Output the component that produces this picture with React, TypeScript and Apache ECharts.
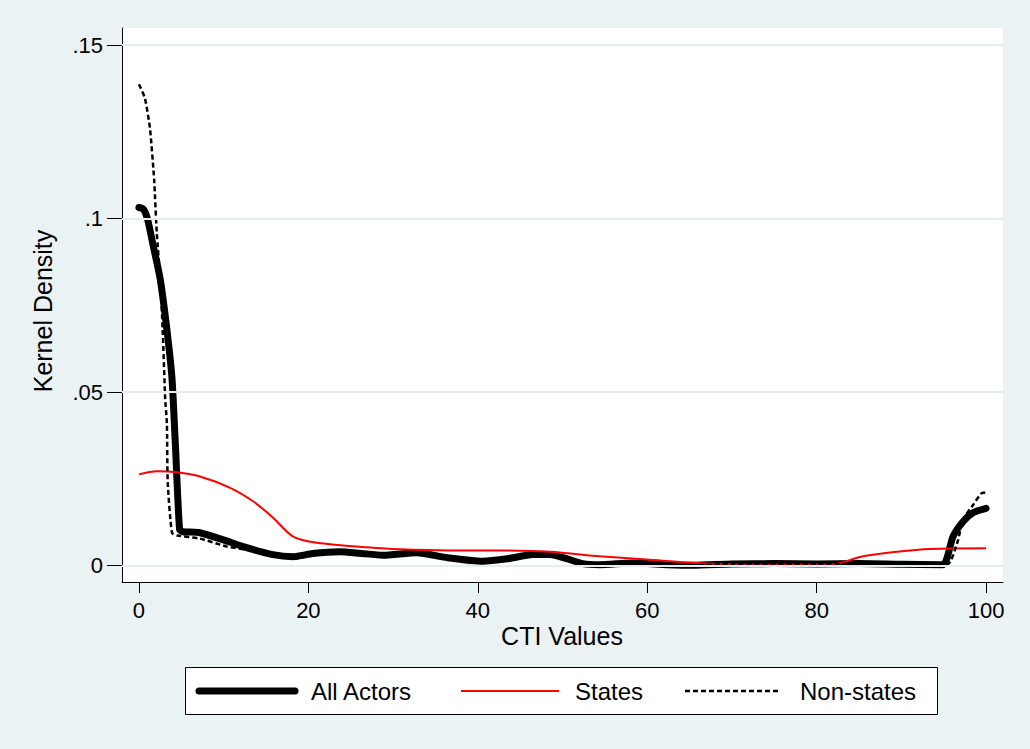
import React, { useEffect, useRef } from "react";
import * as echarts from "echarts";

// ---- Data ----
const allActorsX = [0, 0.5, 1, 1.7, 2.5, 3.3, 3.9, 4.3, 4.8, 5.2, 7.2, 9.9, 12.3, 15.8, 18.2, 20.5, 23.7, 26, 28.8, 32.8, 36.4, 40.6, 43.5, 46.5, 48.5, 50.5, 52.4, 54.4, 58.3, 62.3, 65.4, 70, 75, 80, 85, 90, 94.9, 96.1, 97.3, 98.5, 100];
const allActorsY = [0.1032, 0.1028, 0.1, 0.092, 0.0827, 0.068, 0.054, 0.035, 0.0104, 0.0098, 0.0095, 0.0075, 0.0055, 0.0032, 0.0026, 0.0035, 0.004, 0.0036, 0.003, 0.0037, 0.0023, 0.0013, 0.002, 0.0032, 0.0032, 0.002, 0.0006, 0.0003, 0.0008, 0.0003, 0.0001, 0.0005, 0.0006, 0.0005, 0.0006, 0.0004, 0.0003, 0.0084, 0.0127, 0.0153, 0.0165];

const statesX = [0, 2.1, 4.5, 7.2, 10.7, 13.5, 15.8, 18.2, 21, 26.9, 30.8, 36.7, 40.6, 48.5, 54.4, 60.3, 65.9, 71.8, 81.6, 85.5, 89.5, 93.4, 100];
const statesY = [0.0263, 0.0272, 0.0269, 0.0257, 0.0225, 0.0185, 0.0139, 0.0084, 0.0066, 0.0053, 0.0047, 0.0044, 0.0044, 0.004, 0.0027, 0.0017, 0.0008, 0.0003, 0.0003, 0.0027, 0.004, 0.0048, 0.005];

const nonStatesX = [0, 0.7, 1.3, 1.8, 2.1, 2.5, 2.8, 3.1, 3.3, 3.4, 3.9, 4.5, 7.2, 10.4, 13, 15.8, 18.2, 20.5, 23.7, 28.8, 32.8, 36.4, 40.6, 46.5, 48.5, 52.4, 54.4, 58.3, 62.3, 65.4, 70, 80, 90, 95.4, 96.6, 97.3, 98.5, 99.6, 100];
const nonStatesY = [0.1387, 0.1347, 0.126, 0.111, 0.096, 0.083, 0.068, 0.048, 0.041, 0.024, 0.0095, 0.0087, 0.0078, 0.0055, 0.0045, 0.0028, 0.002, 0.003, 0.0037, 0.0028, 0.0035, 0.002, 0.001, 0.003, 0.003, 0.0004, 0.0001, 0.0006, 0.0002, 0.0001, 0.0005, 0.0005, 0.0004, 0.0003, 0.0066, 0.0133, 0.0176, 0.021, 0.021];

const xTicks = [0, 20, 40, 60, 80, 100];
const yTicks = [0, 0.05, 0.1, 0.15];
const seriesNames = ["All Actors", "States", "Non-states"];
const xTitle = "CTI Values";
const yTitle = "Kernel Density";

const FONT = "'Liberation Sans', Arial, sans-serif";
const BG = "#EAF2F3";

const zip = (xs: number[], ys: number[]) => xs.map((x, i) => [x, ys[i]]);
const fmtY = (v: number) => (v === 0 ? "0" : String(v).replace(/^0\./, "."));

export default function App() {
  const ref = useRef<HTMLDivElement>(null);

  useEffect(() => {
    document.body.style.margin = "0";
    if (!ref.current) return;
    const chart = echarts.init(ref.current, undefined, { renderer: "svg" });
    chart.setOption({
      animation: false,
      backgroundColor: BG,
      grid: {
        left: 122,
        right: 27,
        top: 28,
        bottom: 167,
        show: true,
        backgroundColor: "#ffffff",
        borderWidth: 0,
      },
      xAxis: {
        type: "value",
        min: -2,
        max: 102,
        axisLine: { show: true, onZero: false, lineStyle: { color: "#000", width: 1 } },
        axisTick: { show: true, length: 11, customValues: xTicks, lineStyle: { color: "#000" } },
        axisLabel: {
          customValues: xTicks,
          margin: 17,
          color: "#000",
          fontSize: 22,
          fontFamily: FONT,
        },
        splitLine: { show: false },
      },
      yAxis: {
        type: "value",
        min: -0.0047,
        max: 0.1549,
        axisLine: { show: true, onZero: false, lineStyle: { color: "#000", width: 1 } },
        axisTick: { show: true, length: 15, customValues: yTicks, lineStyle: { color: "#000" } },
        axisLabel: {
          customValues: yTicks,
          margin: 19,
          color: "#000",
          fontSize: 22,
          fontFamily: FONT,
          formatter: (v: number) => fmtY(v),
        },
        splitLine: { show: false },
      },
      series: [
        {
          name: "grid",
          type: "line",
          data: [],
          silent: true,
          z: 1,
          markLine: {
            silent: true,
            symbol: "none",
            label: { show: false },
            lineStyle: { color: "#E4EDF0", width: 2, type: "solid" },
            data: yTicks.map((v) => ({ yAxis: v })),
          },
        },
        {
          name: seriesNames[0],
          type: "line",
          data: zip(allActorsX, allActorsY),
          showSymbol: false,
          smooth: 0.2,
          lineStyle: { color: "#000", width: 7, cap: "round", join: "round" },
          z: 2,
        },
        {
          name: seriesNames[1],
          type: "line",
          data: zip(statesX, statesY),
          showSymbol: false,
          smooth: 0.3,
          lineStyle: { color: "#ff0000", width: 2 },
          z: 3,
        },
        {
          name: seriesNames[2],
          type: "line",
          data: zip(nonStatesX, nonStatesY),
          showSymbol: false,
          smooth: 0.2,
          lineStyle: { color: "#000", width: 2.5, type: [5, 3] },
          z: 4,
        },
      ],
      graphic: [
        {
          type: "text",
          x: 562,
          y: 636,
          style: { text: xTitle, fontSize: 25, fontFamily: FONT, fill: "#000", align: "center", verticalAlign: "middle" },
        },
        {
          type: "text",
          x: 43,
          y: 311,
          rotation: Math.PI / 2,
          style: { text: yTitle, fontSize: 25, fontFamily: FONT, fill: "#000", align: "center", verticalAlign: "middle" },
        },
        {
          type: "rect",
          shape: { x: 185.5, y: 667.5, width: 752, height: 47 },
          style: { fill: "#fff", stroke: "#000", lineWidth: 1 },
        },
        {
          type: "line",
          shape: { x1: 199, y1: 691, x2: 295, y2: 691 },
          style: { stroke: "#000", lineWidth: 7, lineCap: "round" },
        },
        {
          type: "text",
          x: 311,
          y: 691,
          style: { text: seriesNames[0], fontSize: 24, fontFamily: FONT, fill: "#000", align: "left", verticalAlign: "middle" },
        },
        {
          type: "line",
          shape: { x1: 461, y1: 691, x2: 559, y2: 691 },
          style: { stroke: "#ff0000", lineWidth: 2 },
        },
        {
          type: "text",
          x: 575,
          y: 691,
          style: { text: seriesNames[1], fontSize: 24, fontFamily: FONT, fill: "#000", align: "left", verticalAlign: "middle" },
        },
        {
          type: "line",
          shape: { x1: 685, y1: 691, x2: 779, y2: 691 },
          style: { stroke: "#000", lineWidth: 2.5, lineDash: [5, 3] },
        },
        {
          type: "text",
          x: 800,
          y: 691,
          style: { text: seriesNames[2], fontSize: 24, fontFamily: FONT, fill: "#000", align: "left", verticalAlign: "middle" },
        },
      ],
    });
    return () => chart.dispose();
  }, []);

  return <div ref={ref} style={{ width: 1030, height: 749 }} />;
}
